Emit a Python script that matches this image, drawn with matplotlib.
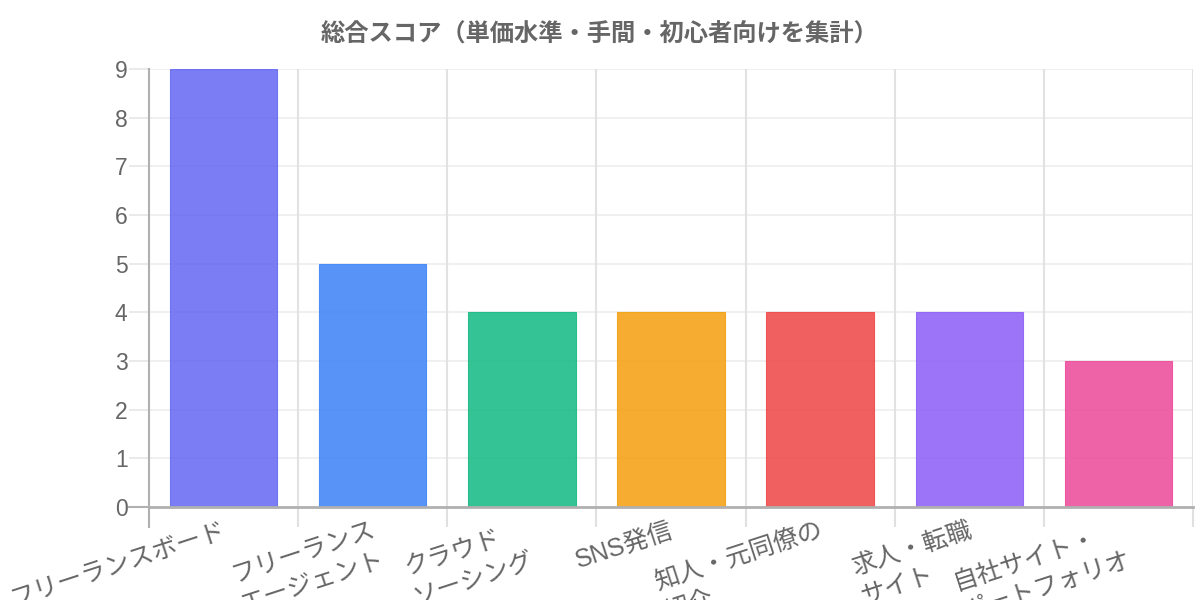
import matplotlib
matplotlib.use("Agg")
import matplotlib.pyplot as plt
import numpy as np

plt.rcParams['font.family'] = ['Liberation Sans', 'Noto Sans CJK JP', 'DejaVu Sans']

title = "総合スコア（単価水準・手間・初心者向けを集計）"
categories = ["フリーランスボード", "フリーランス\nエージェント", "クラウド\nソーシング", "SNS発信",
              "知人・元同僚の\n紹介", "求人・転職\nサイト", "自社サイト・\nポートフォリオ"]
scores = [9, 5, 4, 4, 4, 4, 3]
colors = ["#6366f1", "#3b82f6", "#10b981", "#f59e0b", "#ef4444", "#8b5cf6", "#ec4899"]
yticks = [0, 1, 2, 3, 4, 5, 6, 7, 8, 9]

fig = plt.figure(figsize=(12, 6), dpi=100)
ax = fig.add_axes([149/1200, 1-507/600, (1193-149)/1200, (507-69)/600])

x = np.arange(len(categories))
ax.bar(x, scores, width=0.72, color=colors, alpha=0.85, zorder=3,
       edgecolor=colors, linewidth=0.8)

ax.set_xlim(-0.5, len(categories)-0.5)
ax.set_ylim(0, 9)
ax.set_yticks(yticks)
ax.set_yticklabels([str(v) for v in yticks])
ax.tick_params(axis='y', length=14.4, width=1.2, color='#e6e6e6', labelsize=16.5,
               labelcolor='#666666', pad=1)

# horizontal grid
for v in yticks[1:]:
    ax.axhline(v, color='#eeeeee', lw=1.2, zorder=1)
# vertical boundaries
for b in np.arange(0.5, len(categories), 1.0):
    ax.axvline(b, color='#e2e2e2', lw=1.5, zorder=1)

ax.set_xticks(np.arange(0.5, len(categories)+0.5, 1.0))
ax.set_xticklabels([])
ax.tick_params(axis='x', length=14.4, width=1.5, color='#e0e0e0')

for s in ['top', 'right']:
    ax.spines[s].set_visible(False)
ax.spines['left'].set_color('#b0b0b0')
ax.spines['left'].set_linewidth(1.5)
ax.spines['left'].set_bounds(0, 9)
ax.spines['bottom'].set_color('#b0b0b0')
ax.spines['bottom'].set_linewidth(2)
ax.spines['bottom'].set_zorder(4)

# darker axis extensions (Chart.js style) at the origin corner
ax.plot([-0.5, -0.5], [0, -20/438*9], color='#b0b0b0', lw=1.5, clip_on=False, zorder=4)
ax.plot([-0.5 - 20/149.14, -0.5], [0, 0], color='#b0b0b0', lw=1.5, clip_on=False, zorder=4)

for i, lab in enumerate(categories):
    ax.annotate(lab, xy=(i, 0), xycoords=('data', 'axes fraction'),
                xytext=(-2, -11), textcoords='offset pixels',
                ha='right', va='top', rotation=18, rotation_mode='anchor',
                multialignment='left', fontsize=18, color='#666666',
                linespacing=1.4, annotation_clip=False)

fig.text(0.5, 1-35/600, title, ha='center', va='center', fontsize=17.5,
         fontweight='bold', color='#666666')

fig.savefig("out.png", dpi=100)
